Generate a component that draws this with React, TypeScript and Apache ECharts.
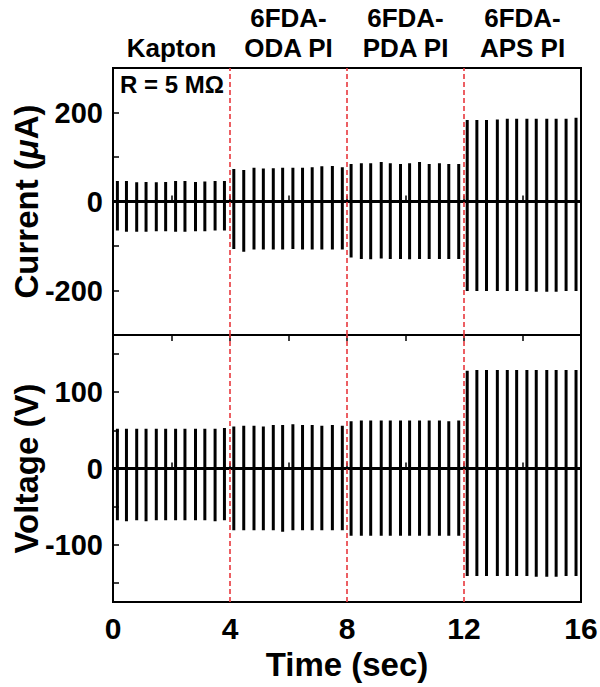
import React, { useEffect, useRef } from "react";
import * as echarts from "echarts";

// Spike times (s)
const spikeTimes = [
  0.15, 0.46, 0.81, 1.13, 1.48, 1.8, 2.14, 2.46, 2.82, 3.14, 3.49, 3.81,
  4.13, 4.47, 4.82, 5.14, 5.48, 5.8, 6.15, 6.48, 6.81, 7.14, 7.5, 7.84,
  8.14, 8.49, 8.81, 9.17, 9.48, 9.83, 10.14, 10.48, 10.81, 11.16, 11.48, 11.82,
  12.11, 12.44, 12.77, 13.14, 13.48, 13.8, 14.15, 14.47, 14.83, 15.15, 15.49, 15.83,
];
// Current (µA) positive peaks and negative troughs
const currentPeaks = [
  46, 46, 43, 44, 43, 44, 46, 46, 44, 45, 46, 46,
  73, 71, 76, 74, 75, 76, 76, 76, 77, 79, 80, 77,
  84, 86, 86, 89, 86, 84, 86, 89, 84, 86, 84, 84,
  183, 183, 183, 184, 186, 186, 186, 186, 186, 186, 186, 188,
];
const currentTroughs = [
  -65, -68, -68, -68, -67, -67, -68, -68, -67, -67, -65, -65,
  -107, -113, -108, -108, -108, -108, -107, -108, -108, -108, -108, -108,
  -126, -129, -130, -128, -129, -129, -130, -129, -129, -129, -129, -129,
  -201, -201, -201, -201, -201, -201, -201, -203, -203, -203, -201, -201,
];
// Voltage (V) positive peaks and negative troughs
const voltagePeaks = [
  52, 52, 52, 52, 52, 52, 52, 52, 52, 52, 52, 53,
  55, 56, 56, 55, 57, 57, 58, 57, 57, 56, 57, 56,
  62, 63, 63, 63, 63, 63, 63, 63, 63, 63, 62, 63,
  128, 129, 129, 129, 129, 129, 129, 129, 129, 129, 129, 129,
];
const voltageTroughs = [
  -68, -69, -68, -69, -68, -68, -68, -68, -68, -68, -69, -68,
  -81, -81, -81, -81, -81, -83, -81, -81, -81, -81, -81, -81,
  -88, -88, -88, -88, -88, -88, -88, -88, -88, -88, -88, -88,
  -141, -141, -141, -141, -141, -141, -141, -142, -142, -142, -141, -141,
];

const segmentNames = ["Kapton", "6FDA-\nODA PI", "6FDA-\nPDA PI", "6FDA-\nAPS PI"];
const segmentCenters = [2, 6, 10, 14];
const boundaries = [4, 8, 12];
const xTickValues = [0, 2, 4, 6, 8, 10, 12, 14, 16];
const xLabelValues = [0, 4, 8, 12, 16];
const currentTickValues = [-300, -200, -100, 0, 100, 200, 300];
const currentLabelValues = [-200, 0, 200];
const voltageTickValues = [-150, -100, -50, 0, 50, 100, 150];
const voltageLabelValues = [-100, 0, 100];
const tMin = 0;
const tMax = 16;

function buildTrace(peaks: number[], troughs: number[]) {
  const pts: number[][] = [[tMin, 0]];
  spikeTimes.forEach((t, i) => {
    pts.push([t, 0], [t, peaks[i]], [t, troughs[i]], [t, 0]);
  });
  pts.push([tMax, 0]);
  return pts;
}

const FONT = "'Liberation Sans', Arial, sans-serif";

export default function App() {
  const ref = useRef<HTMLDivElement>(null);
  useEffect(() => {
    if (!ref.current) return;
    const chart = echarts.init(ref.current, null, { renderer: "svg" });
    const axisLine = { show: true, lineStyle: { color: "#000", width: 2 } };
    const tick = (vals: number[]) => ({
      show: true,
      inside: true,
      length: 6,
      customValues: vals,
      lineStyle: { color: "#000", width: 1.5 },
    });
    const markLine = {
      silent: true,
      symbol: ["none", "none"],
      label: { show: false },
      lineStyle: { color: "#e8383d", width: 1.6, type: [5, 3] as any },
      data: boundaries.map((b) => ({ xAxis: b })),
    };
    const labelStyle = {
      color: "#000",
      fontFamily: FONT,
      fontWeight: "bold" as const,
      fontSize: 29,
    };
    const nameStyle = {
      color: "#000",
      fontFamily: FONT,
      fontWeight: "bold" as const,
      fontSize: 33,
    };
    const gridBase = {
      left: 113, right: 19, height: 267, show: true,
      borderColor: "#000", borderWidth: 2,
      containLabel: false, outerBoundsMode: "none",
    };
    chart.setOption({
      animation: false,
      backgroundColor: "#fff",
      grid: [
        { ...gridBase, top: 68 },
        { ...gridBase, top: 335 },
      ],
      xAxis: [
        {
          type: "value", gridIndex: 0, min: tMin, max: tMax, position: "bottom",
          axisLine, axisTick: tick(xTickValues), axisLabel: { show: false }, splitLine: { show: false },
        },
        {
          type: "value", gridIndex: 1, min: tMin, max: tMax, position: "bottom",
          axisLine, axisTick: tick(xTickValues),
          axisLabel: { ...labelStyle, fontSize: 30, margin: 11, customValues: xLabelValues },
          splitLine: { show: false },
          name: "Time (sec)", nameLocation: "middle", nameGap: 46, nameMoveOverlap: false,
          nameTextStyle: nameStyle,
        },
        {
          type: "value", gridIndex: 1, min: tMin, max: tMax, position: "top",
          axisLine, axisTick: tick(xTickValues), axisLabel: { show: false }, splitLine: { show: false },
        },
        {
          type: "value", gridIndex: 0, min: tMin, max: tMax, position: "top",
          axisLine: { show: false }, axisTick: { show: false }, splitLine: { show: false },
          axisLabel: {
            ...labelStyle, fontSize: 26, lineHeight: 30, margin: 5,
            customValues: segmentCenters,
            formatter: (v: number) => segmentNames[segmentCenters.indexOf(v)] ?? "",
          },
        },
      ],
      yAxis: [
        {
          type: "value", gridIndex: 0, min: -300, max: 300,
          axisLine, axisTick: tick(currentTickValues), splitLine: { show: false },
          axisLabel: { ...labelStyle, margin: 10, customValues: currentLabelValues },
          name: "Current ({i|μ}A)", nameLocation: "middle", nameGap: 70, nameMoveOverlap: false,
          nameTextStyle: {
            ...nameStyle,
            rich: { i: { ...nameStyle, fontStyle: "italic" } },
          },
        },
        {
          type: "value", gridIndex: 1, min: -175, max: 175,
          axisLine, axisTick: tick(voltageTickValues), splitLine: { show: false },
          axisLabel: { ...labelStyle, margin: 10, customValues: voltageLabelValues },
          name: "Voltage (V)", nameLocation: "middle", nameGap: 70, nameMoveOverlap: false,
          nameTextStyle: nameStyle,
        },
      ],
      graphic: [
        {
          type: "text", left: 120, top: 72,
          style: { text: "R = 5 MΩ", fill: "#000", font: `bold 24px ${FONT}` },
        },
      ],
      series: [
        {
          type: "line", xAxisIndex: 0, yAxisIndex: 0,
          data: buildTrace(currentPeaks, currentTroughs),
          showSymbol: false, symbol: "none",
          lineStyle: { color: "#000", width: 3 }, markLine,
        },
        {
          type: "line", xAxisIndex: 1, yAxisIndex: 1,
          data: buildTrace(voltagePeaks, voltageTroughs),
          showSymbol: false, symbol: "none",
          lineStyle: { color: "#000", width: 3 }, markLine,
        },
      ],
    });
    return () => chart.dispose();
  }, []);
  return (
    <div
      ref={ref}
      style={{ position: "fixed", left: 0, top: 0, width: 600, height: 687, background: "#fff" }}
    />
  );
}
